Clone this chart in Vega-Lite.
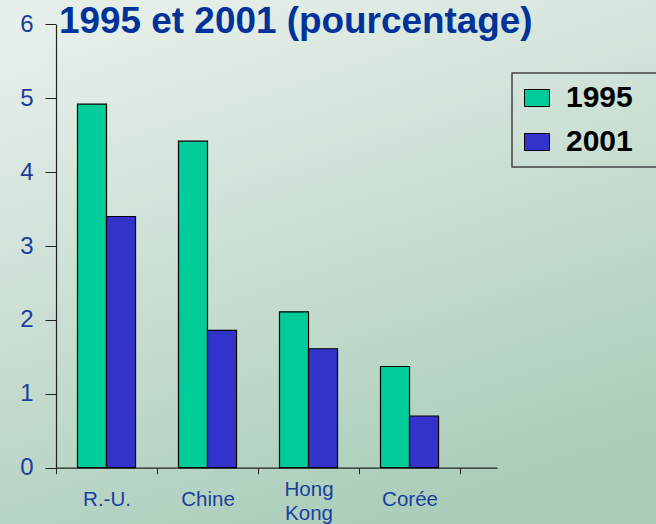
{
  "$schema": "https://vega.github.io/schema/vega-lite/v6.json",
  "width": 656,
  "height": 524,
  "autosize": {"type": "none"},
  "padding": 0,
  "background": "#cfe0d6",
  "title": {
    "text": "1995 et 2001 (pourcentage)",
    "anchor": "start",
    "frame": "group",
    "orient": "top",
    "offset": 0,
    "baseline": "alphabetic",
    "dx": 59,
    "dy": 70,
    "font": "Liberation Sans",
    "fontSize": 36.9,
    "fontWeight": "bold",
    "color": "#003399"
  },
  "data": {
    "values": [
      {"pays": "R.-U.", "annee": "1995", "valeur": 4.92},
      {"pays": "R.-U.", "annee": "2001", "valeur": 3.40},
      {"pays": "Chine", "annee": "1995", "valeur": 4.42},
      {"pays": "Chine", "annee": "2001", "valeur": 1.86},
      {"pays": "Hong Kong", "annee": "1995", "valeur": 2.11},
      {"pays": "Hong Kong", "annee": "2001", "valeur": 1.61},
      {"pays": "Corée", "annee": "1995", "valeur": 1.37},
      {"pays": "Corée", "annee": "2001", "valeur": 0.70}
    ]
  },
  "mark": {"type": "bar", "stroke": "#000000", "strokeWidth": 1.2},
  "encoding": {
    "x": {
      "field": "pays",
      "type": "nominal",
      "sort": ["R.-U.", "Chine", "Hong Kong", "Corée"],
      "scale": {"range": [56, 497], "paddingInner": 0, "paddingOuter": 0.183, "align": 0},
      "axis": {
        "title": null,
        "offset": -56.3,
        "tickBand": "extent",
        "tickSize": 6,
        "tickColor": "#222222",
        "domainColor": "#222222",
        "domainWidth": 1.2,
        "labelAngle": 0,
        "labelFont": "Liberation Sans",
        "labelFontSize": 20.5,
        "labelColor": "#1a3d9e",
        "labelBaseline": "alphabetic",
        "labelPadding": {"condition": {"test": "datum.value == 'Hong Kong'", "value": 22}, "value": 32},
        "labelLineHeight": 24,
        "labelExpr": "datum.value == 'Hong Kong' ? ['Hong', 'Kong'] : datum.label",
        "grid": false
      }
    },
    "xOffset": {
      "field": "annee",
      "type": "nominal",
      "scale": {"paddingInner": 0, "paddingOuter": 0.74}
    },
    "y": {
      "field": "valeur",
      "type": "quantitative",
      "scale": {"domain": [0, 6], "range": [467.7, 24.4], "nice": false, "zero": true},
      "axis": {
        "title": null,
        "offset": -56,
        "values": [0, 1, 2, 3, 4, 5, 6],
        "tickSize": 11,
        "tickColor": "#222222",
        "domainColor": "#222222",
        "domainWidth": 1.2,
        "labelFont": "Liberation Sans",
        "labelFontSize": 24,
        "labelColor": "#1a3d9e",
        "labelPadding": 12,
        "grid": false
      }
    },
    "color": {
      "field": "annee",
      "type": "nominal",
      "scale": {"domain": ["1995", "2001"], "range": ["#00cc99", "#3333cc"]},
      "legend": {
        "title": null,
        "orient": "none",
        "legendX": 512,
        "legendY": 73,
        "padding": 10,
        "strokeColor": "#444444",
        "symbolType": "M-1,-0.68H1V0.68H-1Z",
        "symbolSize": 625,
        "symbolStrokeColor": "#000000",
        "symbolStrokeWidth": 1,
        "labelFont": "Liberation Sans",
        "labelFontSize": 30,
        "labelFontWeight": "bold",
        "labelColor": "#000000",
        "labelOffset": 14,
        "rowPadding": 14,
        "labelExpr": "datum.label + '\u2800'"
      }
    }
  },
  "config": {
    "view": {
      "stroke": null,
      "fill": {
        "gradient": "linear",
        "x1": 0.3, "y1": 0, "x2": 0.7, "y2": 1,
        "stops": [
          {"offset": 0, "color": "#e5eee8"},
          {"offset": 1, "color": "#a8ccb8"}
        ]
      }
    },
    "legend": {"strokeWidth": 1.5}
  }
}
